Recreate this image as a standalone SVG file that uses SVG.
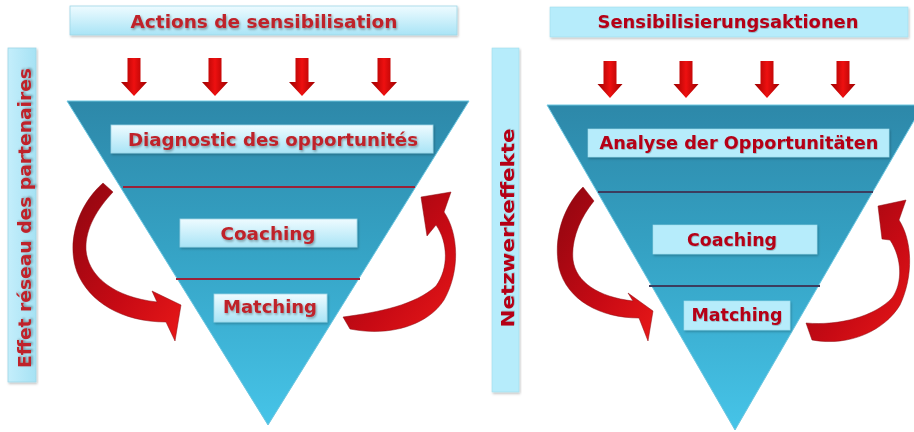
<svg xmlns="http://www.w3.org/2000/svg" width="914" height="432" viewBox="0 0 914 432">
<defs>
<style>
.lbl{font-family:"DejaVu Sans","Liberation Sans",sans-serif;font-weight:bold;font-size:18px;text-anchor:middle;fill:#bf2229;filter:url(#tsh)}
.lblr{font-family:"DejaVu Sans","Liberation Sans",sans-serif;font-weight:bold;font-size:18px;text-anchor:middle;fill:#b50016;filter:url(#tsh2)}
.box{fill:url(#boxg);stroke:#9fd6e6;stroke-width:0.8;filter:url(#bsh)}
.boxr{fill:#b6ecfb;stroke:#a2dcec;stroke-width:0.6;filter:url(#bsh)}
.vbox{fill:url(#vboxg);stroke:#9fd6e6;stroke-width:0.8;filter:url(#bsh)}
.sepl{stroke:#9a2238;stroke-width:2}
.sepr{stroke:#3c3c5e;stroke-width:2}
.curve{fill:url(#redc);stroke:#8a0a10;stroke-width:0.5}
.funnel{stroke:#6cc6e0;stroke-width:1}
</style>
<linearGradient id="funL" x1="0" y1="0" x2="0" y2="1">
<stop offset="0" stop-color="#2d88a9"/><stop offset="0.45" stop-color="#35a2c4"/><stop offset="1" stop-color="#46c4e8"/>
</linearGradient>
<linearGradient id="boxg" x1="0" y1="0" x2="0" y2="1">
<stop offset="0" stop-color="#eefbff"/><stop offset="1" stop-color="#a9e4f6"/>
</linearGradient>
<linearGradient id="vboxg" x1="0" y1="0" x2="1" y2="0">
<stop offset="0" stop-color="#c4eefb"/><stop offset="1" stop-color="#a6e2f4"/>
</linearGradient>
<linearGradient id="redv" x1="0" y1="0" x2="1" y2="0">
<stop offset="0" stop-color="#9c0000"/><stop offset="0.5" stop-color="#ee1010"/><stop offset="1" stop-color="#a00000"/>
</linearGradient>
<linearGradient id="redc" x1="0" y1="0" x2="1" y2="1">
<stop offset="0" stop-color="#8e0610"/><stop offset="0.6" stop-color="#c80a14"/><stop offset="1" stop-color="#e81818"/>
</linearGradient>
<filter id="tsh" x="-10%" y="-30%" width="120%" height="160%">
<feDropShadow dx="1" dy="1.5" stdDeviation="1" flood-color="#000" flood-opacity="0.35"/>
</filter>
<filter id="tsh2" x="-10%" y="-30%" width="120%" height="160%">
<feDropShadow dx="0.6" dy="0.8" stdDeviation="0.6" flood-color="#000" flood-opacity="0.25"/>
</filter>
<filter id="bsh" x="-10%" y="-20%" width="120%" height="150%">
<feDropShadow dx="1" dy="1.5" stdDeviation="1.2" flood-color="#000" flood-opacity="0.25"/>
</filter>
<path id="darrL" d="M -6.5 0 H 6.5 V 24 H 13 L 0 38 L -13 24 H -6.5 Z" fill="url(#redv)"/>
<path id="darrR" d="M -6.5 0 H 6.5 V 23 H 12.5 L 0 37 L -12.5 23 H -6.5 Z" fill="url(#redv)"/>
</defs>
<rect width="914" height="432" fill="#ffffff"/>

<g id="funnel-left">
<polygon class="funnel" points="67,101 469,101 268,425" fill="url(#funL)"/>
</g>
<g id="funnel-right">
<polygon class="funnel" points="547,105 923,105 735,430" fill="url(#funL)"/>
</g>

<g id="connectors">
<line class="sepl" x1="123" y1="187" x2="415" y2="187"/>
<line class="sepl" x1="176" y1="279" x2="360" y2="279"/>
<line class="sepr" x1="598" y1="192" x2="873" y2="192"/>
<line class="sepr" x1="649" y1="286" x2="820" y2="286"/>
<use href="#darrL" x="134" y="58"/>
<use href="#darrL" x="215" y="58"/>
<use href="#darrL" x="302" y="58"/>
<use href="#darrL" x="384" y="58"/>
<use href="#darrR" x="610" y="61"/>
<use href="#darrR" x="686" y="61"/>
<use href="#darrR" x="767" y="61"/>
<use href="#darrR" x="843" y="61"/>
<path class="curve" d="M 103 183 L 113 192 C 98 208, 85 228, 86 250 C 88 275, 112 297, 157 302 L 152 291 L 181 305 L 175 341 L 166 322 C 122 322, 89 302, 77 272 C 66 242, 78 205, 103 183 Z"/>
<path class="curve" d="M 343 317 C 380 312, 415 305, 436 286 C 449 268, 448 242, 436 225 L 427 236 L 421 197 L 451 192 L 444 212 C 458 232, 461 270, 444 300 C 428 325, 390 337, 350 329 Z"/>
<path class="curve" d="M 583 187 L 594 201 C 580 218, 571 240, 573 260 C 576 282, 598 297, 633 301 L 628 293 L 653 311 L 648 341 L 639 318 C 600 318, 567 300, 559 268 C 553 238, 563 207, 583 187 Z"/>
<path class="curve" d="M 806 323 C 840 326, 875 316, 892 298 C 903 283, 902 258, 890 240 L 882 239 L 878 206 L 906 200 L 899 220 C 912 240, 914 275, 900 305 C 885 330, 850 347, 812 340 Z"/>
</g>

<g id="top-left">
<rect class="box" x="70" y="6" width="387" height="29"/>
<text class="lbl" x="264" y="28" textLength="267" lengthAdjust="spacingAndGlyphs">Actions de sensibilisation</text>
</g>
<g id="side-left">
<rect class="vbox" x="8" y="48" width="28" height="334"/>
<text class="lbl" x="31" y="218" transform="rotate(-90 31 218)" font-size="19" textLength="300" lengthAdjust="spacingAndGlyphs">Effet réseau des partenaires</text>
</g>
<g id="diag-left">
<rect class="box" x="111" y="125" width="322" height="28"/>
<text class="lbl" x="273" y="146" textLength="290" lengthAdjust="spacingAndGlyphs">Diagnostic des opportunités</text>
</g>
<g id="coach-left">
<rect class="box" x="180" y="219" width="177" height="28"/>
<text class="lbl" x="268" y="240" textLength="95" lengthAdjust="spacingAndGlyphs">Coaching</text>
</g>
<g id="match-left">
<rect class="box" x="214" y="294" width="113" height="28"/>
<text class="lbl" x="270" y="313" textLength="94" lengthAdjust="spacingAndGlyphs">Matching</text>
</g>

<g id="top-right">
<rect class="boxr" x="550" y="7" width="358" height="30"/>
<text class="lblr" x="728" y="28" textLength="261" lengthAdjust="spacingAndGlyphs">Sensibilisierungsaktionen</text>
</g>
<g id="side-right">
<rect class="boxr" x="492" y="48" width="27" height="344"/>
<text class="lblr" x="514" y="228" transform="rotate(-90 514 228)" font-size="21" textLength="199" lengthAdjust="spacingAndGlyphs">Netzwerkeffekte</text>
</g>
<g id="analyse-right">
<rect class="boxr" x="588" y="129" width="301" height="28"/>
<text class="lblr" x="739" y="149" textLength="279" lengthAdjust="spacingAndGlyphs">Analyse der Opportunitäten</text>
</g>
<g id="coach-right">
<rect class="boxr" x="653" y="225" width="164" height="29"/>
<text class="lblr" x="732" y="246" font-size="19" textLength="90" lengthAdjust="spacingAndGlyphs">Coaching</text>
</g>
<g id="match-right">
<rect class="boxr" x="684" y="301" width="106" height="29"/>
<text class="lblr" x="737" y="321" font-size="19" textLength="91" lengthAdjust="spacingAndGlyphs">Matching</text>
</g>
</svg>
